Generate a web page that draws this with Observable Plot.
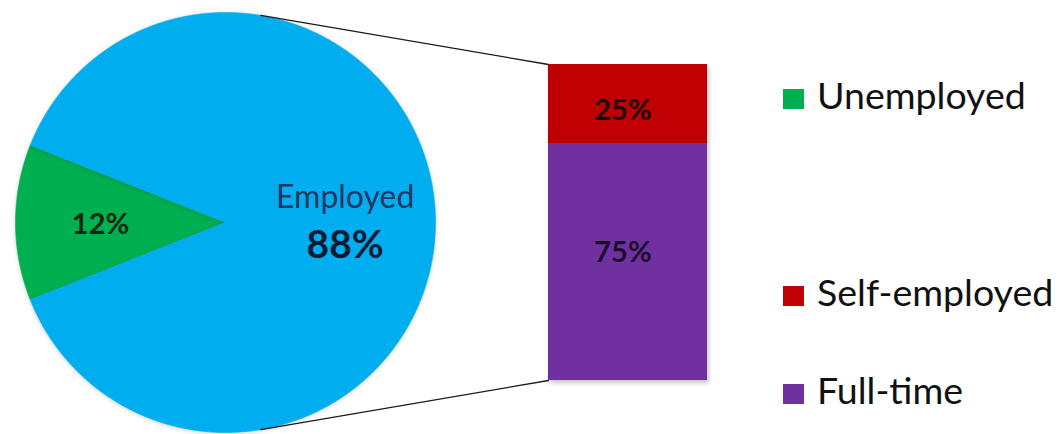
<!DOCTYPE html>
<html>
<head>
<meta charset="utf-8">
<script src="https://cdn.jsdelivr.net/npm/d3@7"></script>
<script src="https://cdn.jsdelivr.net/npm/@observablehq/plot@0.6"></script>
<style>
  html, body { margin: 0; padding: 0; background: #ffffff; }
  #chart { position: relative; width: 1061px; height: 434px; font-family: Lato, "Open Sans", sans-serif; overflow: hidden; }
  #chart svg { position: absolute; left: 0; top: 0; background: transparent; overflow: visible; }
</style>
</head>
<body>
<div id="chart"></div>
<script>
// ---------- data ----------
const pieCategories = ["Unemployed", "Employed"];
const pieValues = [12, 88];
const barGroup = "Employed";
const barCategories = ["Full-time", "Self-employed"];
const barValues = [75, 25];
const legendLabels = ["Unemployed", "Self-employed", "Full-time"];

// ---------- styles ----------
const colorCategories = ["Unemployed", "Employed", "Self-employed", "Full-time"];
const colorRange = ["#00B050", "#00AEEF", "#C00000", "#7030A0"];
const colorOf = c => colorRange[colorCategories.indexOf(c)];
const FONT = "Lato, 'Open Sans', sans-serif";

// ---------- layout ----------
const W = 1061, H = 434;
const PIE = {cx: 225, cy: 222, r: 210};
const LABEL_R = {Unemployed: 0.595, Employed: 0.57};
const BAR = {left: 548, right: 707, top: 64, bottom: 380};
const LEGEND = {x: 783, sw: 21, sh: 20, textX: 817, baselines: [109, 306, 404], fontSize: 37.5};

const container = document.getElementById("chart");

// ---------- bar (stacked) ----------
const barData = barCategories.map((c, i) => ({group: barGroup, cat: c, value: barValues[i]}));
const barLabel = which => d => d.cat === which ? d.value + "%" : null;
const barPlot = Plot.plot({
  width: W, height: H,
  marginLeft: BAR.left, marginRight: W - BAR.right,
  marginTop: BAR.top, marginBottom: H - BAR.bottom,
  x: {domain: [barGroup], padding: 0, axis: null},
  y: {domain: [0, d3.sum(barValues)], axis: null},
  color: {domain: colorCategories, range: colorRange},
  style: {background: "transparent", fontFamily: FONT},
  marks: [
    Plot.barY(barData, {x: "group", y: "value", fill: "cat"}),
    Plot.text(barData, Plot.stackY({
      x: "group", y: "value", text: barLabel("Self-employed"),
      fontSize: 29, fontWeight: "bold", fill: "#1c0a0a", dx: -5, dy: 7
    })),
    Plot.text(barData, Plot.stackY({
      x: "group", y: "value", text: barLabel("Full-time"),
      fontSize: 29, fontWeight: "bold", fill: "#1a0d2a", dx: -5, dy: -9
    }))
  ]
});

// bar corners (pixels)
const bx = barPlot.scale("x"), by = barPlot.scale("y");
const barLeftPx = bx.apply(barGroup);
const barTopPx = by.apply(d3.sum(barValues));
const barBottomPx = by.apply(0);

// ---------- pie ----------
const pieXDomain = [(0 - PIE.cx) / PIE.r, (W - PIE.cx) / PIE.r];
const pieYDomain = [(PIE.cy - H) / PIE.r, PIE.cy / PIE.r];
const pxX = Plot.scale({x: {domain: pieXDomain, range: [0, W]}});
const pxY = Plot.scale({y: {domain: pieYDomain, range: [H, 0]}});

const total = d3.sum(pieValues);
let ang = Math.PI - (pieValues[0] / total) * Math.PI; // first slice centred on the left
const slicePts = [];
const sliceMeta = [];
pieCategories.forEach((c, i) => {
  const span = pieValues[i] / total * 2 * Math.PI;
  const a0 = ang, a1 = ang + span;
  const n = Math.max(4, Math.ceil(span / (Math.PI / 360)));
  slicePts.push({cat: c, x: 0, y: 0});
  for (let k = 0; k <= n; k++) {
    const t = a0 + (a1 - a0) * k / n;
    slicePts.push({cat: c, x: Math.cos(t), y: Math.sin(t)});
  }
  slicePts.push({cat: c, x: 0, y: 0});
  sliceMeta.push({cat: c, value: pieValues[i], mid: (a0 + a1) / 2});
  ang = a1;
});

// tangent connector lines from the bar corners to the pie
function tangentPoint(P, upper) {
  const d = Math.hypot(P[0], P[1]);
  const th = Math.atan2(P[1], P[0]);
  const al = Math.acos(1 / d);
  const t = upper ? th + al : th - al;
  return [Math.cos(t), Math.sin(t)];
}
const cornerTop = [pxX.invert(barLeftPx), pxY.invert(barTopPx)];
const cornerBottom = [pxX.invert(barLeftPx), pxY.invert(barBottomPx)];
const tTop = tangentPoint(cornerTop, true);
const tBottom = tangentPoint(cornerBottom, false);
const connectors = [
  {k: "top", x: tTop[0], y: tTop[1]}, {k: "top", x: cornerTop[0], y: cornerTop[1]},
  {k: "bottom", x: tBottom[0], y: tBottom[1]}, {k: "bottom", x: cornerBottom[0], y: cornerBottom[1]}
];

const lx = d => LABEL_R[d.cat] * Math.cos(d.mid);
const ly = d => LABEL_R[d.cat] * Math.sin(d.mid);

const piePlot = Plot.plot({
  width: W, height: H, margin: 0,
  x: {domain: pieXDomain, axis: null},
  y: {domain: pieYDomain, axis: null},
  style: {background: "transparent", fontFamily: FONT},
  marks: [
    ...pieCategories.map(c => Plot.line(slicePts.filter(d => d.cat === c), {
      x: "x", y: "y", fill: colorOf(c), stroke: colorOf(c), strokeWidth: 0.6, curve: "linear"
    })),
    Plot.line(connectors, {x: "x", y: "y", z: "k", stroke: "#1a1a1a", strokeWidth: 1.3}),
    Plot.text(sliceMeta.filter(d => d.cat === "Unemployed"), {
      x: lx, y: ly, text: d => d.value + "%", fontSize: 29, fontWeight: "bold", fill: "#0f2a14", dy: 2
    }),
    Plot.text(sliceMeta.filter(d => d.cat === "Employed"), {
      x: lx, y: ly, text: d => d.cat, fontSize: 32, fill: "#1F3864", dy: -25
    }),
    Plot.text(sliceMeta.filter(d => d.cat === "Employed"), {
      x: lx, y: ly, text: d => d.value + "%", fontSize: 39, fontWeight: "bold", fill: "#0d1a33", dy: 23
    })
  ]
});

container.appendChild(piePlot);
container.appendChild(barPlot);

// soft shadow on the bar, like the original
d3.select(barPlot).selectAll("g[aria-label='bar']").style("filter", "drop-shadow(2px 3px 2px rgba(0,0,0,0.22))");
d3.select(piePlot).selectAll("g[aria-label='line']").filter((d, i) => i < pieCategories.length)
  .style("filter", "drop-shadow(0px 1px 2px rgba(0,0,0,0.18))");

// ---------- legend ----------
const legendSvg = d3.select(container).append("svg")
  .attr("width", W).attr("height", H)
  .style("font-family", FONT);
legendLabels.forEach((lab, i) => {
  const base = LEGEND.baselines[i];
  legendSvg.append("rect")
    .attr("x", LEGEND.x).attr("y", base - 10 - LEGEND.sh / 2)
    .attr("width", LEGEND.sw).attr("height", LEGEND.sh)
    .attr("fill", colorOf(lab));
  legendSvg.append("text")
    .attr("x", LEGEND.textX).attr("y", base)
    .attr("font-size", LEGEND.fontSize).attr("fill", "#111")
    .text(lab);
});
</script>
</body>
</html>
